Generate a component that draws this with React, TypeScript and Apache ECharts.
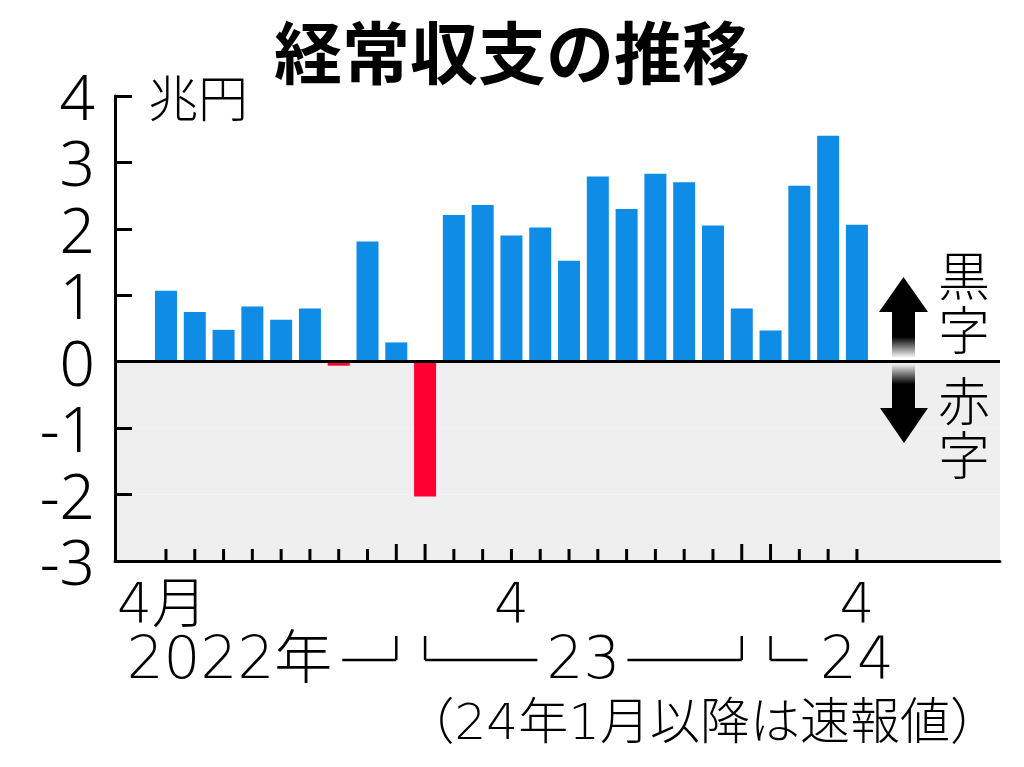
import React, { useEffect, useRef } from 'react';
import * as echarts from 'echarts';

// ---- data ----
const monthNums = [4, 5, 6, 7, 8, 9, 10, 11, 12, 1, 2, 3, 4, 5, 6, 7, 8, 9, 10, 11, 12, 1, 2, 3, 4];
const values = [1.07, 0.75, 0.48, 0.83, 0.63, 0.8, -0.06, 1.81, 0.29, -2.03, 2.21, 2.36, 1.9, 2.02, 1.52, 2.79, 2.3, 2.83, 2.7, 2.05, 0.8, 0.47, 2.65, 3.4, 2.06];
const monthTickLabels = ['4月', '', '', '', '', '', '', '', '', '', '', '', '4', '', '', '', '', '', '', '', '', '', '', '', '4'];
const yearLabels = ['2022年', '23', '24'];
const yearStart = [0, 9, 21];
const yearEnd = [8, 20, 24];
const titleText = '経常収支の推移';
const unitText = '兆円';
const surplusText = '黒\n字';
const deficitText = '赤\n字';
const noteText = '（24年1月以降は速報値）';

const FONT = '"Noto Sans CJK JP", "Noto Sans", sans-serif';
const THIN = '"DejaVu Sans", "Noto Sans CJK JP", sans-serif';
const BLUE = '#0e8ce6';
const RED = '#ff0033';

export default function App() {
  const ref = useRef<HTMLDivElement>(null);
  useEffect(() => {
    document.body.style.margin = '0';
    const chart = echarts.init(ref.current!, null, { renderer: 'svg' });

    const option: any = {
      animation: false,
      backgroundColor: '#fff',
      title: {
        text: titleText,
        left: 'center',
        top: 10,
        textStyle: { fontSize: 68, fontWeight: 'bold', fontFamily: FONT, color: '#000' },
      },
      grid: { left: 115, right: 24, top: 96, bottom: 206 },
      xAxis: {
        type: 'value',
        min: -1.771,
        max: 28.97,
        axisLine: { show: true, onZero: false, lineStyle: { color: '#000', width: 3 } },
        axisTick: { show: false },
        axisLabel: { show: false },
        splitLine: { show: false },
      },
      yAxis: {
        type: 'value',
        min: -3,
        max: 4,
        interval: 1,
        axisLine: { show: true, onZero: false, lineStyle: { color: '#000', width: 3 } },
        axisTick: { show: true, inside: true, length: 17, lineStyle: { color: '#000', width: 3 } },
        axisLabel: {
          fontSize: 62,
          lineHeight: 50,
          color: '#000',
          fontFamily: '"Noto Sans", "Noto Sans CJK JP", sans-serif',
          fontWeight: 300,
          margin: 20,
          padding: [10, 0, 0, 0],
        },
        splitLine: { show: false },
        splitArea: {
          show: true,
          areaStyle: {
            color: ['#efefef', '#efefef', '#efefef', 'rgba(0,0,0,0)', 'rgba(0,0,0,0)', 'rgba(0,0,0,0)', 'rgba(0,0,0,0)'],
          },
        },
      },
      series: [
        {
          type: 'bar',
          barWidth: 22,
          z: 2,
          data: values.map((v, i) => ({ value: [i, v], itemStyle: { color: v < 0 ? RED : BLUE } })),
          markLine: {
            silent: true,
            symbol: ['none', 'none'],
            label: { show: false },
            lineStyle: { color: '#000', width: 3, type: 'solid' },
            data: [{ yAxis: 0 }],
            z: 5,
          },
        },
        {
          type: 'custom',
          z: 4,
          silent: true,
          data: monthNums.map((m, i) => [i, m]),
          renderItem: (params: any, api: any) => {
            const i = api.value(0);
            const m = api.value(1);
            const p = api.coord([i, -3]);
            const len = m === 12 || m === 1 ? 17 : 12;
            return {
              type: 'line',
              shape: { x1: p[0], y1: p[1], x2: p[0], y2: p[1] - len },
              style: { stroke: '#000', lineWidth: 3 },
            };
          },
        },
        {
          type: 'custom',
          z: 4,
          silent: true,
          data: monthTickLabels.map((l, i) => [i, 0]),
          renderItem: (params: any, api: any) => {
            const label = monthTickLabels[params.dataIndex];
            if (!label) return null;
            const p = api.coord([api.value(0), -3]);
            return {
              type: 'text',
              x: p[0] - (label.length > 1 ? 4 : 0),
              y: p[1] + 42,
              style: {
                text: label,
                fontSize: 55,
                lineHeight: 44,
                fontFamily: THIN,
                fontWeight: 200,
                fill: '#000',
                align: 'center',
                verticalAlign: 'middle',
              },
            };
          },
        },
        {
          type: 'custom',
          z: 4,
          silent: true,
          data: yearLabels.map((l, i) => [yearStart[i], yearEnd[i]]),
          renderItem: (params: any, api: any) => {
            const idx = params.dataIndex;
            const xs = api.coord([api.value(0), -3])[0];
            const pe = api.coord([api.value(1), -3]);
            const xe = pe[0];
            const yb = pe[1];
            const ly = yb + 99;
            const vy = yb + 75;
            const ty = yb + 97;
            const ls = { stroke: '#000', lineWidth: 2.5 };
            const txt = (x: number, align: string) => ({
              type: 'text',
              x,
              y: ty,
              style: {
                text: yearLabels[idx],
                fontSize: 58,
                lineHeight: 46,
                fontFamily: THIN,
                fontWeight: 200,
                fill: '#000',
                align,
                verticalAlign: 'middle',
              },
            });
            const line = (x1: number, y1: number, x2: number, y2: number) => ({
              type: 'line',
              shape: { x1, y1, x2, y2 },
              style: ls,
            });
            const children: any[] = [];
            if (idx === 0) {
              children.push(txt(xe - 64, 'right'));
              children.push(line(xe - 54, ly, xe, ly));
              children.push(line(xe, vy, xe, ly));
            } else if (idx === yearLabels.length - 1) {
              children.push(line(xs, vy, xs, ly));
              children.push(line(xs, ly, xs + 37, ly));
              children.push(txt(xe, 'center'));
            } else {
              const mid = (xs + xe) / 2;
              children.push(line(xs, vy, xs, ly));
              children.push(line(xs, ly, mid - 46, ly));
              children.push(txt(mid, 'center'));
              children.push(line(mid + 44, ly, xe, ly));
              children.push(line(xe, vy, xe, ly));
            }
            return { type: 'group', children };
          },
        },
      ],
      graphic: [
        {
          type: 'text',
          z: 100,
          x: 198,
          y: 95,
          style: { text: unitText, fontSize: 50, fontFamily: FONT, fontWeight: 300, fill: '#000', align: 'center', verticalAlign: 'middle' },
        },
        // up arrow
        {
          type: 'polygon',
          z: 100,
          shape: { points: [[879, 312], [928, 312], [903.5, 277]] },
          style: { fill: '#000' },
        },
        {
          type: 'rect',
          z: 100,
          shape: { x: 892, y: 311, width: 23, height: 47 },
          style: {
            fill: new echarts.graphic.LinearGradient(0, 0, 0, 1, [
              { offset: 0, color: '#000' },
              { offset: 0.55, color: '#000' },
              { offset: 1, color: '#fff' },
            ]),
          },
        },
        // down arrow
        {
          type: 'rect',
          z: 100,
          shape: { x: 892, y: 364, width: 23, height: 45 },
          style: {
            fill: new echarts.graphic.LinearGradient(0, 0, 0, 1, [
              { offset: 0, color: '#efefef' },
              { offset: 0.45, color: '#000' },
              { offset: 1, color: '#000' },
            ]),
          },
        },
        {
          type: 'polygon',
          z: 100,
          shape: { points: [[880, 408], [928, 408], [904, 443]] },
          style: { fill: '#000' },
        },
        {
          type: 'text',
          z: 100,
          x: 964,
          y: 300,
          style: {
            text: surplusText,
            fontSize: 52,
            lineHeight: 54,
            fontFamily: FONT,
            fontWeight: 300,
            fill: '#000',
            align: 'center',
            verticalAlign: 'middle',
          },
        },
        {
          type: 'text',
          z: 100,
          x: 964,
          y: 425,
          style: {
            text: deficitText,
            fontSize: 52,
            lineHeight: 54,
            fontFamily: FONT,
            fontWeight: 300,
            fill: '#000',
            align: 'center',
            verticalAlign: 'middle',
          },
        },
        {
          type: 'text',
          z: 100,
          x: 1000,
          y: 722,
          style: { text: noteText, fontSize: 50, fontFamily: THIN, fontWeight: 200, fill: '#000', align: 'right', verticalAlign: 'middle' },
        },
      ],
    };
    chart.setOption(option);
    return () => chart.dispose();
  }, []);
  return <div ref={ref} style={{ width: 1024, height: 767 }} />;
}
